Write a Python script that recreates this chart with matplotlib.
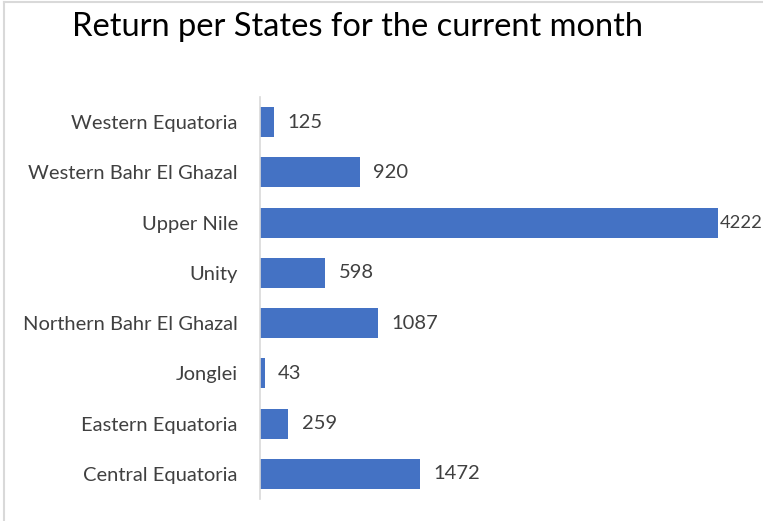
import matplotlib.pyplot as plt
from matplotlib.lines import Line2D

states = ['Western Equatoria', 'Western Bahr El Ghazal', 'Upper Nile', 'Unity',
          'Northern Bahr El Ghazal', 'Jonglei', 'Eastern Equatoria', 'Central Equatoria']
returns = [125, 920, 4222, 598, 1087, 43, 259, 1472]

plt.rcParams['font.family'] = ['Lato', 'DejaVu Sans']

fig = plt.figure(figsize=(7.63, 5.21), dpi=100)
ax = fig.add_axes([260 / 763, 22 / 521, 503 / 763, 402 / 521])

pos = list(range(len(states)))
ax.barh(pos, returns, height=0.6, color='#4472C4')
ax.set_ylim(len(states) - 0.5, -0.5)
ax.set_xlim(0, 4636)
ax.set_yticks(pos)
ax.set_yticklabels(states, fontsize=14.5, color='#404040')
ax.tick_params(axis='y', length=0, pad=16)
ax.set_xticks([])
for s in ['top', 'right', 'bottom']:
    ax.spines[s].set_visible(False)
ax.spines['left'].set_color('#d9d9d9')
ax.spines['left'].set_linewidth(1.2)

top = max(returns)
for p, v in zip(pos, returns):
    # the longest bar keeps its label tight so it stays inside the picture
    if v == top:
        gap, fs = 12, 13.2
    else:
        gap, fs = 125, 14.5
    ax.text(v + gap, p, str(v), va='center', ha='left', fontsize=fs,
            color='#404040', clip_on=False)

fig.text(72 / 763, 1 - 27 / 521, 'Return per States for the current month',
         fontsize=23.5, va='center', ha='left', color='black')

fig.add_artist(Line2D([4 / 763, 1], [1 - 2 / 521, 1 - 2 / 521], color='#d9d9d9', lw=1.5))
fig.add_artist(Line2D([4 / 763, 4 / 763], [0, 1 - 2 / 521], color='#d9d9d9', lw=1.5))

fig.savefig('out.png', dpi=100)
